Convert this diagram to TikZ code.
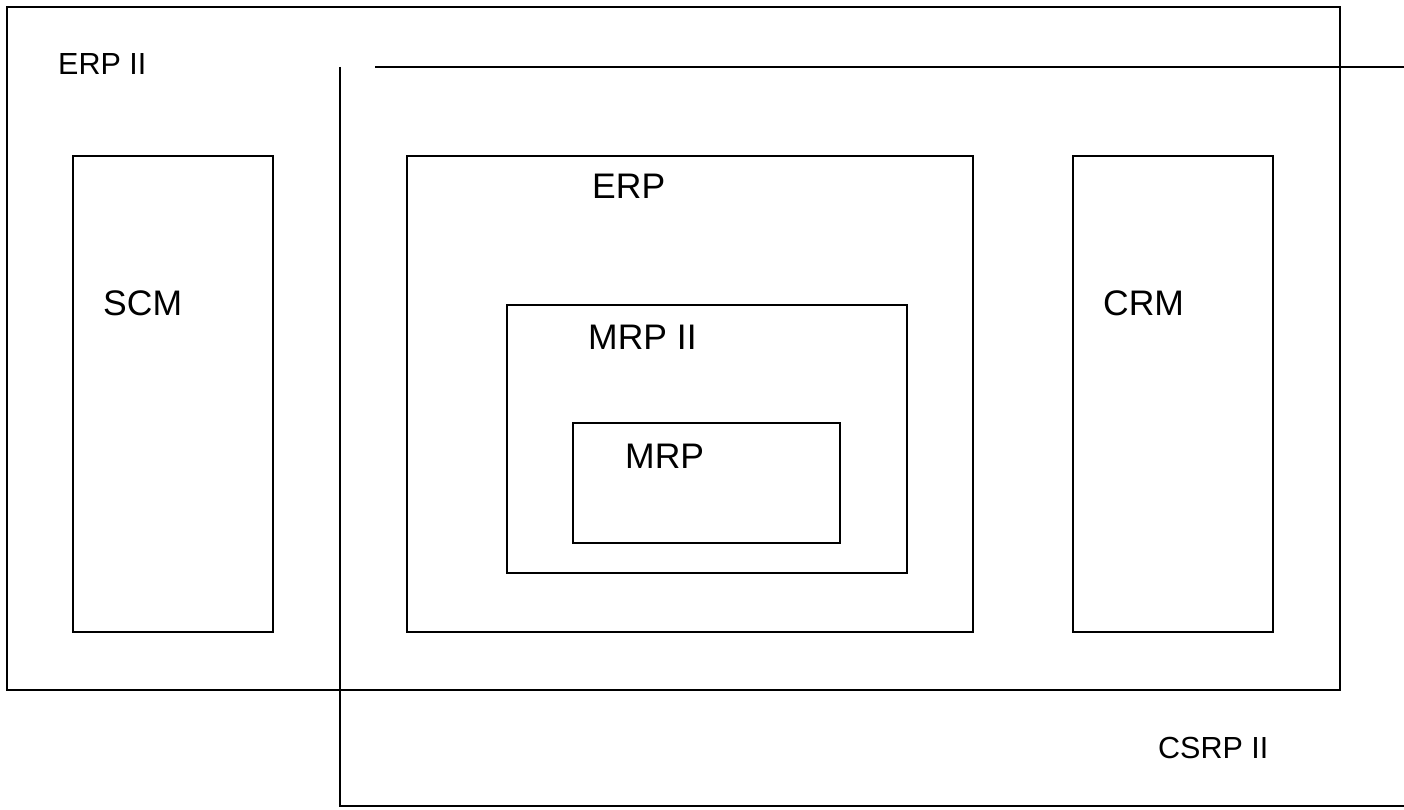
\documentclass[tikz,border=0pt]{standalone}
\usepackage{fontspec}
\setmainfont{Liberation Sans}
\tikzset{
  frame/.style={draw=black, line width=1.6pt},
  biglabel/.style={anchor=base west, inner sep=0pt, font=\fontsize{35.5}{40}\selectfont},
  smalllabel/.style={anchor=base west, inner sep=0pt, font=\fontsize{30.5}{36}\selectfont}
}
\begin{document}
\begin{tikzpicture}[x=1pt, y=-1pt]
      \useasboundingbox (0,0) rectangle (1404,810);
      \draw[frame] (7,7) rectangle (1340,690);
      \draw[frame] (73,156) rectangle (273,632);
      \draw[frame] (407,156) rectangle (973,632);
      \draw[frame] (507,305) rectangle (907,573);
      \draw[frame] (573,423) rectangle (840,543);
      \draw[frame] (1073,156) rectangle (1273,632);
      \coordinate (csrptop) at (340,67);
      \coordinate (csrpbot) at (340,806);
      \draw[frame] (csrptop) -- (csrpbot) -- (1404,806);
      \draw[frame] (375,67) -- (1404,67);
      \draw
        (58,75) node[smalllabel] (erpii){ERP II}
        (103,315) node[biglabel] (scm){SCM}
        (592,199) node[biglabel] (erp){ERP}
        (588,349) node[biglabel] (mrpii){MRP II}
        (625,468) node[biglabel] (mrp){MRP}
        (1103,315) node[biglabel] (crm){CRM}
        (1158,758) node[smalllabel] (csrpii){CSRP II};
    \end{tikzpicture}
\end{document}
